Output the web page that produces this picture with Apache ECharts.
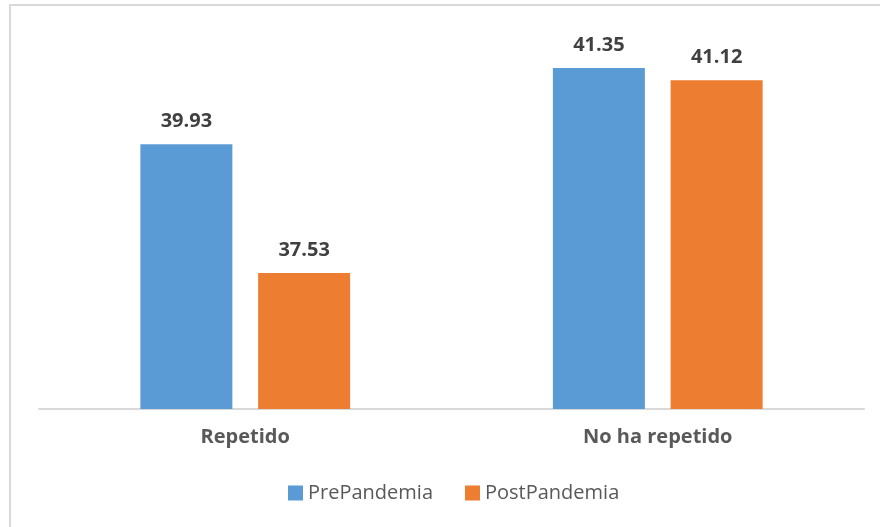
<!DOCTYPE html>
<html>
<head>
<meta charset="utf-8">
<script src="https://cdn.jsdelivr.net/npm/echarts@6/dist/echarts.min.js"></script>
<style>
  html, body { margin: 0; padding: 0; background: #fff; }
  #chart {
    position: absolute;
    left: 9px;
    top: 4px;
    width: 871px;
    height: 523px;
    border-left: 2px solid #d9d9d9;
    border-top: 2px solid #d9d9d9;
    box-sizing: border-box;
  }
</style>
</head>
<body>
<div id="chart"></div>
<script>
  // datos
  var categorias = ["Repetido", "No ha repetido"];
  var prePandemia = [39.93, 41.35];
  var postPandemia = [37.53, 41.12];
  var nombresSeries = ["PrePandemia", "PostPandemia"];

  var fuente = "'Open Sans', 'Liberation Sans', sans-serif";

  var chart = echarts.init(document.getElementById("chart"));

  var etiqueta = {
    show: true,
    position: "top",
    distance: 13,
    color: "#404040",
    fontSize: 20,
    fontWeight: "bold",
    fontFamily: fuente,
    formatter: function (p) {
      return p.value.toFixed(2);
    },
  };

  var option = {
    animation: false,
    grid: {
      left: 28,
      right: 16,
      top: 27,
      bottom: 118,
    },
    legend: {
      bottom: 19,
      left: 272,
      itemWidth: 15,
      itemHeight: 15,
      itemGap: 32,
      icon: "rect",
      textStyle: {
        color: "#595959",
        fontSize: 20,
        fontFamily: fuente,
      },
      data: nombresSeries,
    },
    xAxis: {
      type: "category",
      data: categorias,
      axisLine: {
        show: true,
        lineStyle: { color: "#d9d9d9", width: 2 },
      },
      axisTick: { show: false },
      axisLabel: {
        color: "#595959",
        fontSize: 20,
        fontWeight: "bold",
        fontFamily: fuente,
        margin: 18,
      },
    },
    yAxis: {
      type: "value",
      min: 35,
      max: 42,
      interval: 1,
      show: false,
      splitLine: { show: false },
    },
    series: [
      {
        name: nombresSeries[0],
        type: "bar",
        data: prePandemia,
        barWidth: 92,
        barGap: "28%",
        itemStyle: { color: "#5b9bd5" },
        label: etiqueta,
      },
      {
        name: nombresSeries[1],
        type: "bar",
        data: postPandemia,
        barWidth: 92,
        itemStyle: { color: "#ed7d31" },
        label: etiqueta,
      },
    ],
  };

  chart.setOption(option);
</script>
</body>
</html>
